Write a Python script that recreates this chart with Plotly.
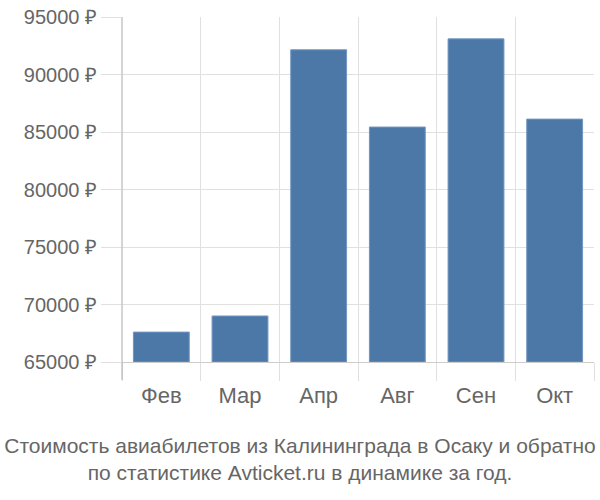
import plotly.graph_objects as go

months = ["Фев", "Мар", "Апр", "Авг", "Сен", "Окт"]
prices = [67600, 69000, 92150, 85430, 93100, 86120]
tick_vals = [65000, 70000, 75000, 80000, 85000, 90000, 95000]
tick_text = [f"{v} ₽" for v in tick_vals]
base_price = 65000

fig = go.Figure(go.Bar(
    x=months,
    y=[p - base_price for p in prices],
    base=base_price,
    marker=dict(color="#4c78a8", line=dict(color="#7396c2", width=1)),
))

fig.update_layout(
    width=600, height=500,
    margin=dict(l=122, r=6, t=14, b=138),
    plot_bgcolor="white", paper_bgcolor="white",
    font=dict(family="Liberation Sans, Arial, sans-serif", color="#666666", size=22),
    bargap=0.29,
    showlegend=False,
    title=dict(
        text="Стоимость авиабилетов из Калининграда в Осаку и обратно<br>по статистике Avticket.ru в динамике за год.",
        xref="container", x=0.5, xanchor="center",
        yref="container", y=0.094, yanchor="middle",
        font=dict(size=21, color="#666666"),
    ),
)

fig.update_yaxes(
    range=[65000, 95000],
    tickvals=tick_vals, ticktext=tick_text,
    tickfont=dict(size=20),
    showgrid=True, gridcolor="#e0e0e0", gridwidth=1,
    ticks="outside", ticklen=20, tickcolor="#e0e0e0",
    zeroline=False, showline=False,
)
fig.update_xaxes(
    tickson="boundaries",
    showgrid=True, gridcolor="#e0e0e0", gridwidth=1,
    ticks="outside", ticklen=18, tickcolor="#e0e0e0",
    ticklabelstandoff=14,
    showline=True, linecolor="#cccccc", linewidth=1,
    mirror=False,
)

# darker left axis line reaching down past the bottom line
fig.add_shape(type="line", xref="paper", yref="paper",
              x0=0, x1=0, y0=-18 / 348, y1=1,
              line=dict(color="#aaaaaa", width=1))

fig.write_html("out.html", config={"displayModeBar": False})

# drop the default page margin so the figure sits at the window corner
with open("out.html", encoding="utf-8") as f:
    html = f.read()
html = html.replace("<body>", '<body style="margin:0">', 1)
with open("out.html", "w", encoding="utf-8") as f:
    f.write(html)
